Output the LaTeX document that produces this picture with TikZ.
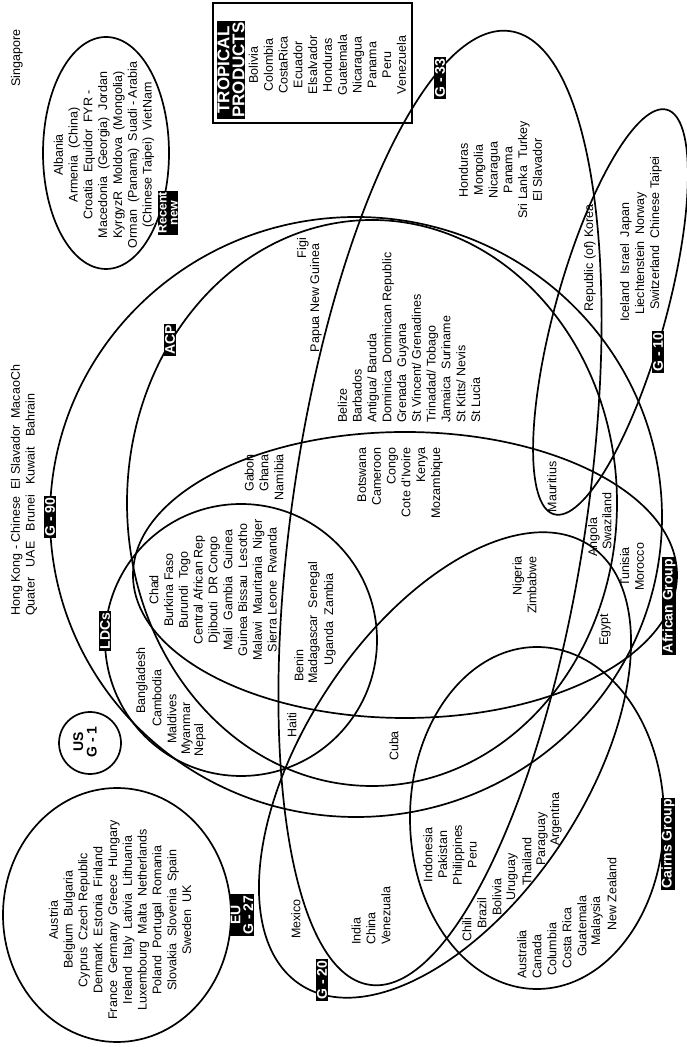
\documentclass[tikz,border=0pt]{standalone}
\usepackage{fontspec}
\setmainfont{Liberation Sans}
\begin{document}
\begin{tikzpicture}[x=1pt,y=1pt,
  txt/.style={rotate=90,inner sep=0pt,font=\fontsize{12.5}{14.8}\selectfont},
  lab/.style={rotate=90,fill=black,text=white,inner xsep=1.5pt,inner ysep=0.6pt,align=center,font=\bfseries\fontsize{14}{13}\selectfont},
  curve/.style={line width=1.7pt},
]
\useasboundingbox (0,0) rectangle (687,1047);

% ---------- closed curves ----------
\draw[curve] (117,132) ellipse [x radius=114, y radius=127];
\draw[curve] (90,304) circle [radius=31];
\draw[curve] (106,894) ellipse [x radius=63, y radius=116];
\draw[curve] (213,1044) rectangle (412,924);
\draw[curve] (356,530) ellipse [x radius=306, y radius=300];
\draw[curve] (372,544) ellipse [x radius=245, y radius=283];
\draw[curve] (241,407) circle [radius=136];
\draw[curve] (405,472) ellipse [x radius=272, y radius=143];
\draw[curve, rotate around={81.6:(440,539)}] (440,539) ellipse [x radius=482, y radius=147];
\draw[curve, rotate around={74.4:(610.5,735)}] (610.5,735) ellipse [x radius=210, y radius=55];
\draw[curve, rotate around={56.6:(445,282)}] (445,282) ellipse [x radius=263, y radius=140];
\draw[curve] (537,229) ellipse [x radius=127, y radius=171];

% ---------- labels ----------
\node[lab] (lg90) at (50,530) {G - 90};
\node[lab] (lldc) at (105,416) {LDCs};
\node[lab] (lacp) at (170,707) {ACP};
\node[lab] (lafr) at (669,441) {African Group};
\node[lab] (lcai) at (668,203) {Cairns Group};
\node[lab] (lg20) at (322,67) {G - 20};
\node[lab] (lg33) at (440,969) {G - 33};
\node[lab] (lg10) at (658,695) {G - 10};
\node[lab] (leu) at (242,132) {EU\\G - 27};
\node[lab,font=\bfseries\fontsize{12.5}{11}\selectfont] (lrec) at (168,834) {Recent\\new};
\node[lab,font=\bfseries\fontsize{17}{15}\selectfont] (ltrop) at (231,977) {TROPICAL\\PRODUCTS};
\node[txt,font=\bfseries\fontsize{14}{13.5}\selectfont,align=center] (us) at (85,305) {US\\G - 1};

% ---------- texts ----------
\node[txt,anchor=west,align=left] (hk) at (24,431) {Hong Kong - Chinese~~El Slavador~~MacaoCh\\Quater~~~UAE~~~Brunei~~~Kuwait~~~Bahrain};
\node[txt] (sing) at (17,989) {Singapore};

\node[txt,align=center] (rec) at (104,892) {Albania\\Armenia~~(China)\\Croatia~~Equidor~~FYR -\\Macedonia~~(Georgia)~~Jordan\\KyrgyzR~~Moldova~~(Mongolia)\\Orman~~(Panama)~~Suadi - Arabia\\(Chinese Taipei)~~VietNam};

\node[txt,align=center] (trop) at (327.5,982) {Bolivia\\Colombia\\CostaRica\\Ecuador\\Elsalvador\\Honduras\\Guatemala\\Nicaragua\\Panama\\Peru\\Venezuela};

\node[txt,align=center] (eu) at (120,127) {Austria\\Belgium~~Bulgaria\\Cyprus~~Czech Republic\\Denmark~~Estonia~~Finland\\France~~Germany~~Greece~~Hungary\\Ireland~~Italy~~Lativia~~Lithuania\\Luxembourg~~Malta~~Netherlands\\Poland~~Portugal~~Romania\\Slovakia~~Slovenia~~Spain\\Sweden~~UK};

\node[txt,align=center] (hon) at (500.5,877) {Honduras\\Mongolia\\Nicaragua\\Panama\\Sri Lanka~~Turkey\\El Slavador};
\node[txt] (kor) at (590,789) {Republic (of) Korea};
\node[txt,anchor=west] (g10a) at (626,725) {Iceland~~Israel~~Japan};
\node[txt,anchor=west] (g10b) at (641,732) {Liechtenstein~~Norway};
\node[txt,anchor=west] (g10c) at (656,737) {Switzerland~~Chinese Taipei};

\node[txt] (figi) at (303,799) {Figi};
\node[txt] (png) at (316,749) {Papua New Guinea};
\node[txt,anchor=west,align=left] (car) at (409,624) {Belize\\Barbados\\Antigua/ Baruda\\Dominica~~Dominican Republic\\Grenada~~Guyana\\St Vincent/ Grenadines\\Trinadad/ Tobago\\Jamaica~~Suriname\\St Kitts/ Nevis\\St Lucia};

\node[txt,anchor=east,align=right] (gab) at (264,593) {Gabon\\Ghana\\Namibia};
\node[txt,anchor=east,align=right] (bots) at (400,600) {Botswana\\Cameroon\\Congo\\Cote d'Ivoire\\Kenya\\Mozambique};
\node[txt,align=center] (chad) at (213,457) {Chad\\Burkina Faso\\Burundi~~Togo\\Central African Rep\\Djibouti~~DR Congo\\Mali~~Gambia~~Guinea\\Guinea Bissau~~Lesotho\\Malawi~~Mauritania~~Niger\\Sierra Leone~~Rwanda};
\node[txt,anchor=west] (benin) at (299,365) {Benin};
\node[txt,anchor=west] (mada) at (314,363) {Madagascar~~Senegal};
\node[txt,anchor=west] (ugan) at (330,381) {Uganda~~Zambia};

\node[txt,anchor=west] (bang) at (142,333) {Bangladesh};
\node[txt,anchor=west] (camb) at (157,320) {Cambodia};
\node[txt,anchor=west] (mald) at (172,303) {Maldives};
\node[txt,anchor=west] (myan) at (187,292) {Myanmar};
\node[txt,anchor=west] (nepa) at (200,290) {Nepal};
\node[txt] (haiti) at (292,322) {Haiti};
\node[txt] (cuba) at (394,301) {Cuba};
\node[txt] (mex) at (296,128) {Mexico};
\node[txt,anchor=west,align=left] (ind) at (371,102) {India\\China\\Venezuala};
\node[txt,align=center] (indo) at (450,192) {Indonesia\\Pakistan\\Philippines\\Peru};

\node[txt,anchor=west] (chil) at (467,105) {Chili};
\node[txt,anchor=west] (braz) at (482,118) {Brazil};
\node[txt,anchor=west] (boli) at (497,131) {Bolivia};
\node[txt,anchor=west] (urug) at (512,146) {Uruguay};
\node[txt,anchor=west] (thai) at (527,161) {Thailand};
\node[txt,anchor=west] (para) at (542,181) {Paraguay};
\node[txt,anchor=west] (arge) at (556,201) {Argentina};

\node[txt,anchor=west] (aust) at (522,68) {Australia};
\node[txt,anchor=west] (cana) at (537,68) {Canada};
\node[txt,anchor=west] (colu) at (552,71) {Columbia};
\node[txt,anchor=west] (cost) at (567,78) {Costa Rica};
\node[txt,anchor=west] (guat) at (582,90) {Guatemala};
\node[txt,anchor=west] (mala) at (597,101) {Malaysia};
\node[txt,anchor=west] (newz) at (612,116) {New Zealand};

\node[txt] (maur) at (552,560) {Mauritius};
\node[txt] (ango) at (594,510) {Angola};
\node[txt] (swaz) at (607,526) {Swaziland};
\node[txt,align=center] (tun) at (632,480) {Tunisia\\Morocco};
\node[txt,anchor=east,align=right] (nig) at (524.5,491) {Nigeria\\Zimbabwe};
\node[txt] (egy) at (605,417) {Egypt};
\end{tikzpicture}
\end{document}
